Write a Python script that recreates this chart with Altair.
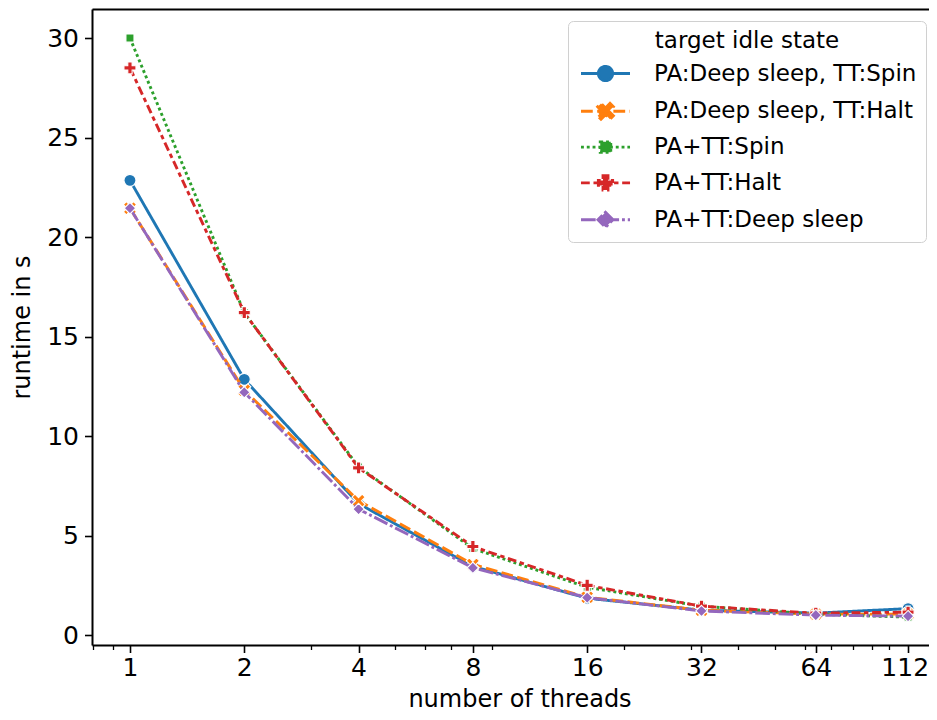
import altair as alt
import pandas as pd

# ---- data ----
threads = [1, 2, 4, 8, 16, 32, 64, 112]
series_names = [
    "PA:Deep sleep, TT:Spin",
    "PA:Deep sleep, TT:Halt",
    "PA+TT:Spin",
    "PA+TT:Halt",
    "PA+TT:Deep sleep",
]
rt_pa_spin = [22.85, 12.85, 6.6, 3.45, 1.85, 1.25, 1.1, 1.33]
rt_pa_halt = [21.45, 12.3, 6.75, 3.55, 1.9, 1.25, 1.05, 1.05]
rt_tt_spin = [30.0, 16.2, 8.45, 4.35, 2.4, 1.45, 1.05, 0.9]
rt_tt_halt = [28.5, 16.2, 8.4, 4.45, 2.5, 1.45, 1.1, 1.15]
rt_tt_deep = [21.45, 12.2, 6.33, 3.38, 1.88, 1.21, 1.0, 0.95]

major_ticks = threads
minor_ticks = [0.8, 0.9, 3, 5, 6, 7, 9, 20, 30, 40, 50, 60, 70, 80, 90, 100]
y_ticks = [0, 5, 10, 15, 20, 25, 30]

rows = []
for name, vals in zip(series_names, [rt_pa_spin, rt_pa_halt, rt_tt_spin, rt_tt_halt, rt_tt_deep]):
    for t, v in zip(threads, vals):
        rows.append({"threads": t, "runtime": v, "series": name})
df = pd.DataFrame(rows)

# ---- styles ----
FONT = "DejaVu Sans"
colors = ["#1f77b4", "#ff7f0e", "#2ca02c", "#d62728", "#9467bd"]
LW = 2.9
dashes = [[1, 0], [11.8, 4.4], [2.9, 2.9], [8.8, 3.7, 4.4, 3.7], [14.7, 2.9, 2.9, 2.9]]


def xpath(E, d):
    pts = [(0, -d), (E - d, -E), (E, -E + d), (d, 0), (E, E - d), (E - d, E),
           (0, d), (-E + d, E), (-E, E - d), (-d, 0), (-E, -E + d), (-E + d, -E)]
    return "M" + "L".join(f"{x:.3f},{y:.3f}" for x, y in pts) + "Z"


def pluspath(E, t):
    pts = [(-t, -E), (t, -E), (t, -t), (E, -t), (E, t), (t, t), (t, E), (-t, E),
           (-t, t), (-E, t), (-E, -t), (-t, -t)]
    return "M" + "L".join(f"{x:.3f},{y:.3f}" for x, y in pts) + "Z"


def sqpath(s):
    return f"M{-s},{-s}L{s},{-s}L{s},{s}L{-s},{s}Z"


def diapath(s):
    return f"M0,{-s}L{s},0L0,{s}L{-s},0Z"


def circpath(r):
    return f"M{r},0A{r},{r},0,1,1,{-r},0A{r},{r},0,1,1,{r},0Z"


# plot markers (unit = 6 px with size 144)
point_shapes = ["circle", xpath(1.1, 0.5), sqpath(0.67), pluspath(1.0, 0.36), diapath(0.95)]
# legend symbols (unit = 7.5 px with size 225): line stub + marker
STUB = "M-3.27,0L3.27,0"
legend_shapes = [
    STUB + circpath(0.95),
    STUB + xpath(1.05, 0.45),
    STUB + sqpath(0.7),
    STUB + pluspath(0.95, 0.33),
    STUB + diapath(1.0),
]

xscale = alt.Scale(type="log", base=2, domain=[0.7944, 127.15], nice=False)
yscale = alt.Scale(domain=[-0.5, 31.46], nice=False, zero=False)

common_axis = dict(
    labelFont=FONT, labelFontSize=25, labelColor="black",
    titleFont=FONT, titleFontSize=24, titleFontWeight="normal", titleColor="black",
    tickColor="black", tickWidth=1.6, domainColor="black", domainWidth=2,
    grid=False, labelOverlap=False,
)

x_main = alt.Axis(values=major_ticks, format="d", title="number of threads",
                  tickSize=7.5, labelPadding=3, titlePadding=7, titleX=427.5,
                  labelFlush=25, labelFlushOffset=20.5,
                  orient="bottom", **common_axis)
y_main = alt.Axis(values=y_ticks, format="d", title="runtime in s",
                  tickSize=7.5, labelPadding=6, titlePadding=12, orient="left",
                  labelFlush=False, **common_axis)

base = alt.Chart(df)

layers = []
for i, name in enumerate(series_names):
    sub = base.transform_filter(alt.datum.series == name)
    ln = sub.mark_line(strokeWidth=LW, color=colors[i], strokeDash=dashes[i]).encode(
        x=alt.X("threads:Q", scale=xscale, axis=x_main if i == 0 else None),
        y=alt.Y("runtime:Q", scale=yscale, axis=y_main if i == 0 else None),
    )
    pt = sub.mark_point(filled=True, opacity=1, size=144, shape=point_shapes[i],
                        color=colors[i], fill=colors[i], stroke="white", strokeWidth=1.1).encode(
        x=alt.X("threads:Q", scale=xscale, axis=None),
        y=alt.Y("runtime:Q", scale=yscale, axis=None),
    )
    layers += [ln, pt]

leg = alt.Legend(
    title="target idle state", orient="none", legendX=476, legendY=12,
    titleFont=FONT, titleFontSize=23, titleFontWeight="normal", titleColor="black",
    titleAnchor="middle", titleAlign="center", titlePadding=9, titleLimit=500,
    labelFont=FONT, labelFontSize=23, labelColor="black", labelLimit=500,
    symbolSize=225, symbolOffset=17, labelOffset=37, rowPadding=9.8, padding=9,
    symbolStrokeWidth=LW,
    fillColor="rgba(255,255,255,0.8)", strokeColor="#d0d0d0", cornerRadius=5,
)

legend_layer = base.transform_filter("false").mark_point(filled=True, opacity=1, strokeWidth=LW).encode(
    fill=alt.Fill("series:N", scale=alt.Scale(domain=series_names, range=colors), legend=leg),
    stroke=alt.Stroke("series:N", scale=alt.Scale(domain=series_names, range=colors), legend=leg),
    shape=alt.Shape("series:N", scale=alt.Scale(domain=series_names, range=legend_shapes), legend=leg),
    strokeDash=alt.StrokeDash("series:N", scale=alt.Scale(domain=series_names, range=dashes), legend=leg),
)

minor_layer = base.transform_filter("false").mark_rule().encode(
    x=alt.X("threads:Q", scale=xscale,
            axis=alt.Axis(values=minor_ticks, labels=False, domain=False, tickSize=4.5,
                          tickWidth=1.3, tickColor="black", grid=False, title=None, orient="bottom")),
)

top_layer = base.transform_filter("false").mark_rule().encode(
    x=alt.X("threads:Q", scale=xscale,
            axis=alt.Axis(orient="top", labels=False, ticks=False, domain=True, domainColor="black",
                          domainWidth=2, grid=False, title=None)),
)

chart = (
    alt.layer(*layers, legend_layer, minor_layer, top_layer)
    .resolve_axis(x="independent", y="independent")
    .properties(
        width=837, height=636,
        padding={"left": 84, "top": 1, "right": 0, "bottom": 67},
        autosize="none",
    )
    .configure_view(stroke=None)
    .configure_legend(strokeWidth=2)
    .configure(font=FONT)
)

chart.save("out.html", embed_options={"renderer": "svg", "actions": False})
